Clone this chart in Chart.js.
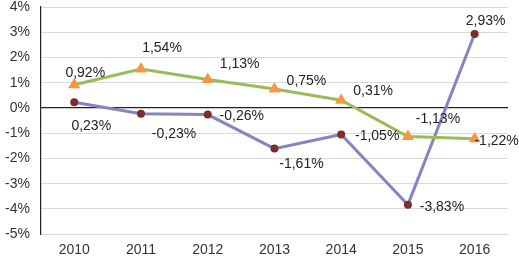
<!DOCTYPE html>
<html>
<head>
<meta charset="utf-8">
<script src="https://cdn.jsdelivr.net/npm/chart.js@4"></script>
<style>
  html, body { margin: 0; padding: 0; background: #fff; }
  #wrap { width: 519px; height: 259px; }
</style>
</head>
<body>
<div id="wrap"><canvas id="chart" width="519" height="259"></canvas></div>
<script>
const years = ['2010', '2011', '2012', '2013', '2014', '2015', '2016'];
const greenValues = [0.92, 1.54, 1.13, 0.75, 0.31, -1.13, -1.22];
const purpleValues = [0.23, -0.23, -0.26, -1.61, -1.05, -3.83, 2.93];
const yTicks = [4, 3, 2, 1, 0, -1, -2, -3, -4, -5];

// label offsets (dx, dy) from each point, per series
const greenOffsets = [[11, -12], [21, -21], [32, -15], [32, -8], [32, -9], [30, -17], [22, 2]];
const purpleOffsets = [[17, 24], [33, 20], [34, 2], [27, 16], [36, 2], [34, 2], [11, -13]];

const fmt = v => v.toFixed(2).replace('.', ',') + '%';

const labelPlugin = {
    id: 'pointLabels',
    afterDatasetsDraw(chart) {
        const ctx = chart.ctx;
        ctx.save();
        ctx.font = '14px "Liberation Sans", sans-serif';
        ctx.fillStyle = '#222';
        ctx.textAlign = 'center';
        ctx.textBaseline = 'middle';
        chart.data.datasets.forEach((ds, i) => {
            const meta = chart.getDatasetMeta(i);
            const offs = i === 0 ? greenOffsets : purpleOffsets;
            meta.data.forEach((pt, j) => {
                ctx.fillText(fmt(ds.data[j]), pt.x + offs[j][0], pt.y + offs[j][1]);
            });
        });
        ctx.restore();
    }
};

const ctx = document.getElementById('chart').getContext('2d');
const chart = new Chart(ctx, {
    type: 'line',
    data: {
        labels: years,
        datasets: [
            {
                label: 'A',
                data: greenValues,
                borderColor: '#9BBB59',
                backgroundColor: '#F79646',
                borderWidth: 3,
                pointStyle: 'triangle',
                pointRadius: 7,
                pointBorderWidth: 0,
                pointBackgroundColor: '#F79646',
                tension: 0
            },
            {
                label: 'B',
                data: purpleValues,
                borderColor: '#8585C2',
                backgroundColor: '#7B2C2C',
                borderWidth: 3,
                pointStyle: 'circle',
                pointRadius: 4,
                pointBorderWidth: 0,
                pointBackgroundColor: '#7B2C2C',
                tension: 0
            }
        ]
    },
    options: {
        responsive: false,
        animation: false,
        layout: { padding: { top: 6, right: 11, bottom: 0, left: -6 } },
        plugins: {
            legend: { display: false },
            tooltip: { enabled: false }
        },
        scales: {
            x: {
                offset: true,
                grid: { display: false, offset: true },
                border: { display: false },
                ticks: {
                    color: '#333',
                    font: { family: '"Liberation Sans", sans-serif', size: 14 },
                    padding: 0
                }
            },
            y: {
                min: -5,
                max: 4,
                afterBuildTicks: axis => { axis.ticks = yTicks.map(v => ({ value: v })); },
                afterFit: axis => { axis.paddingTop = 0; axis.paddingBottom = 0; },
                grid: {
                    color: c => c.tick && c.tick.value === 0 ? '#222' : '#d9d9d9',
                    lineWidth: c => c.tick && c.tick.value === 0 ? 1.2 : 1,
                    drawTicks: false
                },
                border: { display: true, color: '#222', width: 1.2 },
                ticks: {
                    color: '#333',
                    font: { family: '"Liberation Sans", sans-serif', size: 14 },
                    padding: 11,
                    callback: v => v + '%'
                }
            }
        }
    },
    plugins: [labelPlugin]
});
</script>
</body>
</html>
